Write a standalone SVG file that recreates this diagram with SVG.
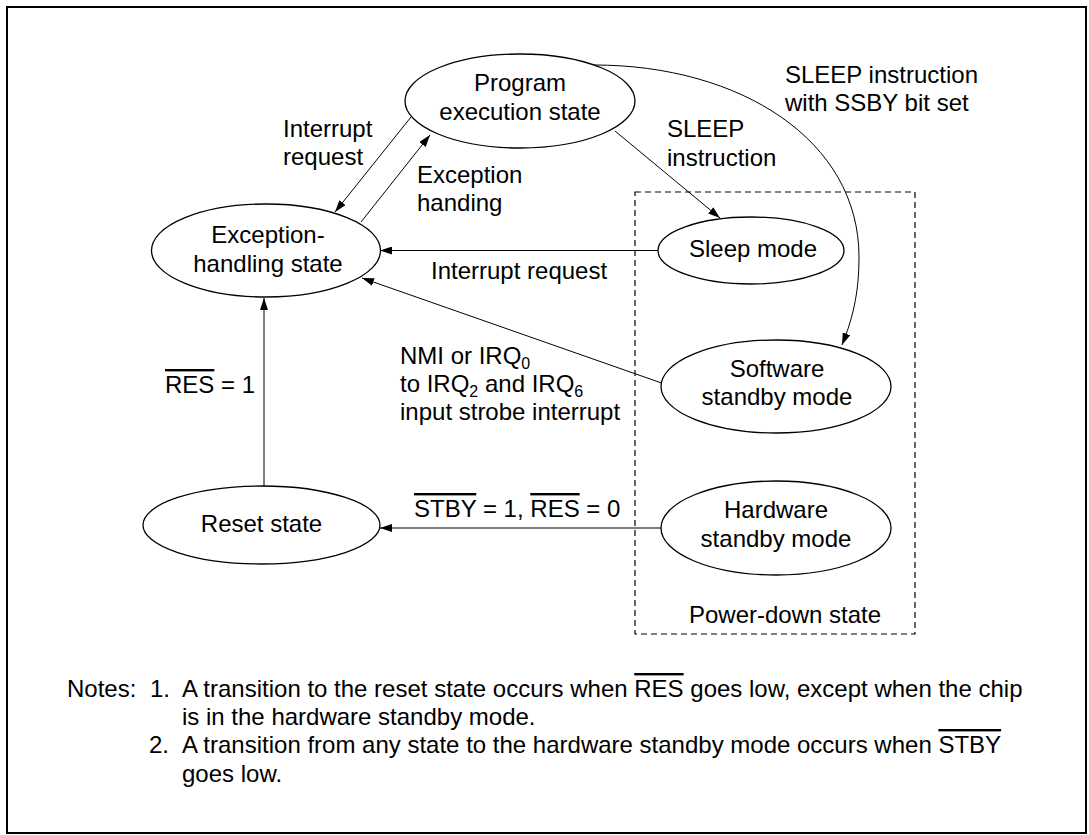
<svg xmlns="http://www.w3.org/2000/svg" width="1089" height="835" viewBox="0 0 1089 835">
<defs>
<marker id="ah" viewBox="0 0 12 8" refX="12" refY="4" markerWidth="12" markerHeight="8" markerUnits="userSpaceOnUse" orient="auto">
<path d="M0,0 L12,4 L0,8 Z" fill="#000"/>
</marker>
<style>
text{font-family:"Liberation Sans",Arial,sans-serif;font-size:24px;fill:#000}
.c{text-anchor:middle}
.n ellipse{fill:#fff;stroke:#000;stroke-width:1.3}
#connectors line,#connectors path{fill:none;stroke:#000;stroke-width:1;marker-end:url(#ah)}
.ov{text-decoration:overline}
.sub{font-size:16px}
</style>
</defs>
<rect x="7" y="7" width="1079" height="826" fill="#fff" stroke="#000" stroke-width="2"/>
<g id="power-down-box">
<rect x="635" y="192" width="280" height="442" fill="none" stroke="#000" stroke-width="1.2" stroke-dasharray="6,4"/>
<text x="689" y="623">Power-down state</text>
</g>
<g id="connectors">
<line x1="411" y1="117" x2="335" y2="212"/>
<line x1="361" y1="222" x2="430" y2="135"/>
<line x1="658" y1="250.5" x2="380" y2="250.5"/>
<line x1="661.5" y1="383" x2="362" y2="278"/>
<line x1="264" y1="486" x2="264" y2="298"/>
<line x1="661.5" y1="528" x2="380" y2="528"/>
<line x1="615" y1="131" x2="720" y2="218"/>
<path d="M594,65 C740,65 859,140 859,257 C859,295 852,320 842,345"/>
</g>
<g id="labels">
<text x="283" y="137">Interrupt</text>
<text x="283" y="165">request</text>
<text x="417" y="183">Exception</text>
<text x="417" y="211">handing</text>
<text x="431" y="279">Interrupt request</text>
<text x="667" y="137">SLEEP</text>
<text x="667" y="166">instruction</text>
<text x="785" y="83">SLEEP instruction</text>
<text x="785" y="111">with SSBY bit set</text>
<text x="400" y="364">NMI or IRQ<tspan class="sub" dy="5">0</tspan></text>
<text x="400" y="392">to IRQ<tspan class="sub" dy="5">2</tspan><tspan dy="-5"> and IRQ</tspan><tspan class="sub" dy="5">6</tspan></text>
<text x="400" y="420">input strobe interrupt</text>
<text x="165" y="393"><tspan class="ov">RES</tspan> = 1</text>
<text x="414" y="517"><tspan class="ov">STBY</tspan> = 1, <tspan class="ov">RES</tspan> = 0</text>
</g>
<g id="program" class="n">
<ellipse cx="520" cy="101" rx="115" ry="47"/>
<text class="c" x="520" y="91">Program</text>
<text class="c" x="520" y="120">execution state</text>
</g>
<g id="exception" class="n">
<ellipse cx="266" cy="250.5" rx="114.5" ry="46.5"/>
<text class="c" x="268" y="243">Exception-</text>
<text class="c" x="268" y="272">handling state</text>
</g>
<g id="sleep" class="n">
<ellipse cx="751" cy="250.5" rx="93" ry="33.5"/>
<text class="c" x="753" y="257">Sleep mode</text>
</g>
<g id="software" class="n">
<ellipse cx="776" cy="386.5" rx="115" ry="46.5"/>
<text class="c" x="777" y="377">Software</text>
<text class="c" x="777" y="405">standby mode</text>
</g>
<g id="hardware" class="n">
<ellipse cx="776" cy="528" rx="115" ry="47"/>
<text class="c" x="776" y="518">Hardware</text>
<text class="c" x="776" y="547">standby mode</text>
</g>
<g id="reset" class="n">
<ellipse cx="261.5" cy="525" rx="118.5" ry="39"/>
<text class="c" x="261.5" y="532">Reset state</text>
</g>
<g id="notes">
<text x="67" y="697">Notes:</text>
<text x="150" y="697">1.</text>
<text x="182" y="697">A transition to the reset state occurs when <tspan class="ov">RES</tspan> goes low, except when the chip</text>
<text x="182" y="725">is in the hardware standby mode.</text>
<text x="149" y="753">2.</text>
<text x="182" y="753">A transition from any state to the hardware standby mode occurs when <tspan class="ov">STBY</tspan></text>
<text x="182" y="782">goes low.</text>
</g>
</svg>
